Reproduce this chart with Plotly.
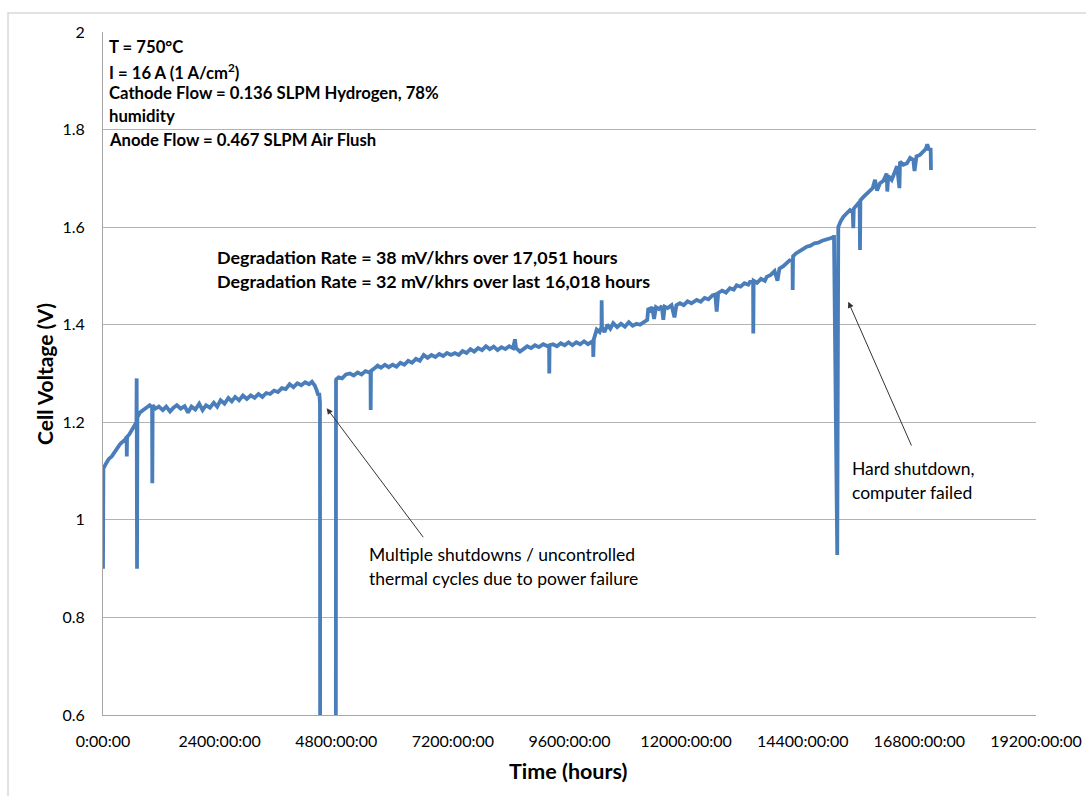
import plotly.graph_objects as go

# ---------------- data ----------------
hours = [
    0, 8, 60, 120, 180, 240, 300, 350, 400, 460, 486, 490, 495, 540, 600, 650, 688, 693, 700, 708,
    760, 830, 900, 960, 1010, 1015, 1022, 1080, 1150, 1230, 1300, 1380, 1450, 1520, 1600, 1680,
    1750, 1820, 1900, 1980, 2050, 2120, 2200, 2280, 2350, 2420, 2500, 2580, 2650, 2720, 2800,
    2880, 2960, 3040, 3120, 3200, 3280, 3360, 3440, 3520, 3600, 3680, 3760, 3840, 3920, 4000,
    4080, 4160, 4240, 4300, 4360, 4400, 4430, 4450, 4465, 4470, 4790, 4795,
    4800, 4850, 4920, 5000, 5080, 5160, 5240, 5320, 5400, 5480, 5505, 5509, 5515, 5580, 5650,
    5720, 5800, 5880, 5960, 6040, 6120, 6200, 6280, 6360, 6440, 6520, 6600, 6680, 6760, 6840,
    6920, 7000, 7080, 7160, 7240, 7320, 7400, 7480, 7560, 7640, 7720, 7800, 7880, 7960, 8040,
    8120, 8200, 8280, 8360, 8440, 8478, 8500, 8580, 8650, 8730, 8810, 8890, 8970, 9060, 9150,
    9180, 9184, 9190, 9260, 9340, 9420, 9500, 9580, 9660, 9740, 9820, 9900, 9980, 10060, 10085,
    10090, 10100, 10160, 10220, 10258, 10262, 10268, 10320, 10380, 10440, 10500, 10580, 10660,
    10740, 10820, 10900, 10980, 11050, 11130, 11200, 11221, 11260, 11300, 11340, 11380, 11440,
    11500, 11530, 11560, 11620, 11700, 11760, 11800, 11873, 11950, 12030, 12110, 12217, 12300,
    12380, 12460, 12540, 12600, 12629, 12660, 12740, 12820, 12900, 12980, 13040, 13120, 13200,
    13280, 13314, 13378, 13382, 13390, 13460, 13540, 13620, 13658, 13740, 13820, 13880, 13920,
    14000, 14069, 14130, 14190, 14193, 14200, 14260, 14340, 14420, 14481, 14560, 14640, 14720,
    14800, 14880, 14960, 15000, 15030, 15043, 15110, 15131,
    15180, 15234, 15300, 15372, 15430, 15440, 15450, 15520, 15570, 15578, 15586, 15650, 15720,
    15784, 15840, 15887, 15930, 15990, 16060, 16127, 16140, 16160, 16230, 16290, 16340, 16390,
    16401, 16470, 16545, 16610, 16674, 16700, 16740, 16812, 16880, 16930, 16962, 17000, 17032,
    17039,
]

voltage = [
    0.90, 1.105, 1.115, 1.125, 1.13, 1.14, 1.15, 1.155, 1.16, 1.165, 1.17, 1.13, 1.17, 1.175,
    1.185, 1.19, 1.20, 1.29, 0.90, 1.21,
    1.22, 1.225, 1.23, 1.235, 1.23, 1.075, 1.235, 1.228, 1.232, 1.225, 1.232, 1.222, 1.23,
    1.235, 1.228, 1.233, 1.22, 1.232, 1.226, 1.238, 1.225, 1.235, 1.23, 1.24, 1.232, 1.245,
    1.238, 1.25, 1.243, 1.252, 1.245, 1.255, 1.248, 1.255, 1.25, 1.258, 1.252, 1.26, 1.258,
    1.265, 1.262, 1.27, 1.268, 1.278, 1.272, 1.28, 1.276, 1.282, 1.278, 1.283, 1.275, 1.265,
    1.255, 1.26, 1.24, 0.30, 0.30, 1.285,
    1.288, 1.292, 1.29, 1.298, 1.30, 1.296, 1.302, 1.298, 1.305, 1.302, 1.30, 1.225, 1.305,
    1.31, 1.316, 1.312, 1.318, 1.313, 1.318, 1.314, 1.322, 1.318, 1.326, 1.322, 1.33, 1.326,
    1.338, 1.332, 1.338, 1.334, 1.34, 1.336, 1.342, 1.338, 1.342, 1.338, 1.346, 1.342, 1.35,
    1.345, 1.352, 1.348, 1.356, 1.35, 1.355, 1.348, 1.354, 1.35, 1.356, 1.352, 1.37, 1.352,
    1.345, 1.35, 1.356, 1.352, 1.358, 1.354, 1.36, 1.356, 1.355, 1.30, 1.358, 1.36, 1.356,
    1.362, 1.358, 1.364, 1.358, 1.364, 1.36, 1.366, 1.36, 1.365, 1.36, 1.334, 1.37, 1.39,
    1.385, 1.395, 1.45, 1.395, 1.385, 1.40, 1.392, 1.403, 1.395, 1.402, 1.396, 1.405, 1.398,
    1.402, 1.40, 1.405, 1.41, 1.434, 1.43, 1.436, 1.412, 1.436, 1.432, 1.438, 1.41, 1.437,
    1.434, 1.44, 1.415, 1.44, 1.444, 1.44, 1.448, 1.444, 1.451, 1.447, 1.455, 1.452, 1.46,
    1.462, 1.427, 1.465, 1.47, 1.466, 1.475, 1.472, 1.481, 1.478, 1.485, 1.482, 1.488, 1.488,
    1.382, 1.49, 1.486, 1.494, 1.49, 1.498, 1.502, 1.51, 1.49, 1.515, 1.52, 1.526, 1.532,
    1.53, 1.471, 1.54, 1.546, 1.55, 1.556, 1.56, 1.562, 1.567, 1.568, 1.572, 1.574, 1.577,
    1.578, 1.58, 1.58, 0.928, 1.60,
    1.612, 1.621, 1.628, 1.635, 1.63, 1.598, 1.638, 1.645, 1.652, 1.553, 1.655, 1.662, 1.668,
    1.673, 1.68, 1.697, 1.675, 1.69, 1.695, 1.71, 1.673, 1.705, 1.697, 1.712, 1.725, 1.68,
    1.734, 1.728, 1.731, 1.742, 1.738, 1.715, 1.745, 1.748, 1.755, 1.76, 1.77, 1.758, 1.762,
    1.717,
]

x_tick_vals = [0, 2400, 4800, 7200, 9600, 12000, 14400, 16800, 19200]
x_tick_text = ["0:00:00", "2400:00:00", "4800:00:00", "7200:00:00", "9600:00:00",
               "12000:00:00", "14400:00:00", "16800:00:00", "19200:00:00"]
y_tick_vals = [0.6, 0.8, 1.0, 1.2, 1.4, 1.6, 1.8, 2.0]
y_tick_text = ["0.6", "0.8", "1", "1.2", "1.4", "1.6", "1.8", "2"]

conditions = [
    "T = 750°C",
    "I = 16 A (1 A/cm<sup>2</sup>)",
    "Cathode Flow = 0.136 SLPM Hydrogen, 78%",
    "humidity",
    "Anode Flow = 0.467 SLPM Air Flush",
]
degradation = [
    "Degradation Rate = 38 mV/khrs over 17,051 hours",
    "Degradation Rate = 32 mV/khrs over last 16,018 hours",
]
note1 = ["Multiple shutdowns / uncontrolled", "thermal cycles due to power failure"]
note2 = ["Hard shutdown,", "computer failed"]

# ---------------- figure ----------------
FONT = "Lato, 'Open Sans', sans-serif"
TXT = "#000000"

fig = go.Figure()
fig.add_trace(go.Scatter(
    x=hours, y=voltage, mode="lines",
    line=dict(color="#4a7ebb", width=3.8),
    hoverinfo="skip", showlegend=False,
))

ann = []
for i, t in enumerate(conditions):
    ann.append(dict(x=82, y=[1.969, 1.920, 1.874, 1.827, 1.779][i], xref="x", yref="y",
                    text="<b>" + t + "</b>", showarrow=False, xanchor="left", yanchor="middle",
                    font=dict(family=FONT, size=16.7, color=TXT)))
for i, t in enumerate(degradation):
    ann.append(dict(x=2305, y=[1.539, 1.490][i], xref="x", yref="y",
                    text="<b>" + t + "</b>", showarrow=False, xanchor="left", yanchor="middle",
                    font=dict(family=FONT, size=17.9, color=TXT)))
for i, t in enumerate(note1):
    ann.append(dict(x=5433, y=[0.928, 0.879][i], xref="x", yref="y",
                    text=t, showarrow=False, xanchor="left", yanchor="middle",
                    font=dict(family=FONT, size=17.5, color=TXT)))
for i, t in enumerate(note2):
    ann.append(dict(x=15372, y=[1.106, 1.057][i], xref="x", yref="y",
                    text=t, showarrow=False, xanchor="left", yanchor="middle",
                    font=dict(family=FONT, size=17.5, color=TXT)))

# arrows
ann.append(dict(x=4603, y=1.229, ax=6661, ay=0.955, xref="x", yref="y", axref="x", ayref="y",
                text=" ", showarrow=True, arrowhead=2, arrowsize=1.2, arrowwidth=1,
                arrowcolor="#333333"))
ann.append(dict(x=15337, y=1.447, ax=16709, ay=1.136, xref="x", yref="y", axref="x", ayref="y",
                text=" ", showarrow=True, arrowhead=2, arrowsize=1.2, arrowwidth=1,
                arrowcolor="#333333"))

# axis titles
ann.append(dict(x=-0.0622, y=0.4993, xref="paper", yref="paper", text="<b>Cell Voltage (V)</b>",
                textangle=-90, showarrow=False, xanchor="center", yanchor="middle",
                font=dict(family=FONT, size=21, color=TXT)))
ann.append(dict(x=0.4984, y=-0.082, xref="paper", yref="paper", text="<b>Time (hours)</b>",
                showarrow=False, xanchor="center", yanchor="middle",
                font=dict(family=FONT, size=21.5, color=TXT)))

fig.update_layout(
    width=1086, height=796,
    margin=dict(l=103, r=50, t=32, b=81, autoexpand=False),
    paper_bgcolor="white", plot_bgcolor="white",
    annotations=ann,
    font=dict(family=FONT, size=15, color=TXT),
    shapes=[dict(type="rect", xref="paper", yref="paper",
                 x0=-0.1018, x1=1.06, y0=-0.13, y1=1.0278,
                 line=dict(color="#d9d9d9", width=1.5), fillcolor="rgba(0,0,0,0)",
                 layer="below")],
)
fig.update_xaxes(
    range=[0, 19200], tickvals=x_tick_vals, ticktext=x_tick_text,
    showgrid=False, zeroline=False, showline=True, linecolor="#a6a6a6", linewidth=1,
    ticks="", ticklabelstandoff=12, tickfont=dict(family=FONT, size=16, color=TXT),
    fixedrange=True,
)
fig.update_yaxes(
    range=[0.6, 2.0], tickvals=y_tick_vals, ticktext=y_tick_text,
    showgrid=True, gridcolor="#b3b3b3", gridwidth=1, zeroline=False,
    showline=True, linecolor="#a6a6a6", linewidth=1,
    ticks="", ticklabelstandoff=14, tickfont=dict(family=FONT, size=16, color=TXT),
    fixedrange=True,
)

fig.write_html(
    "out.html",
    config={"displayModeBar": False, "staticPlot": False},
    post_script="document.body.style.margin='0';document.body.style.padding='0';",
)
